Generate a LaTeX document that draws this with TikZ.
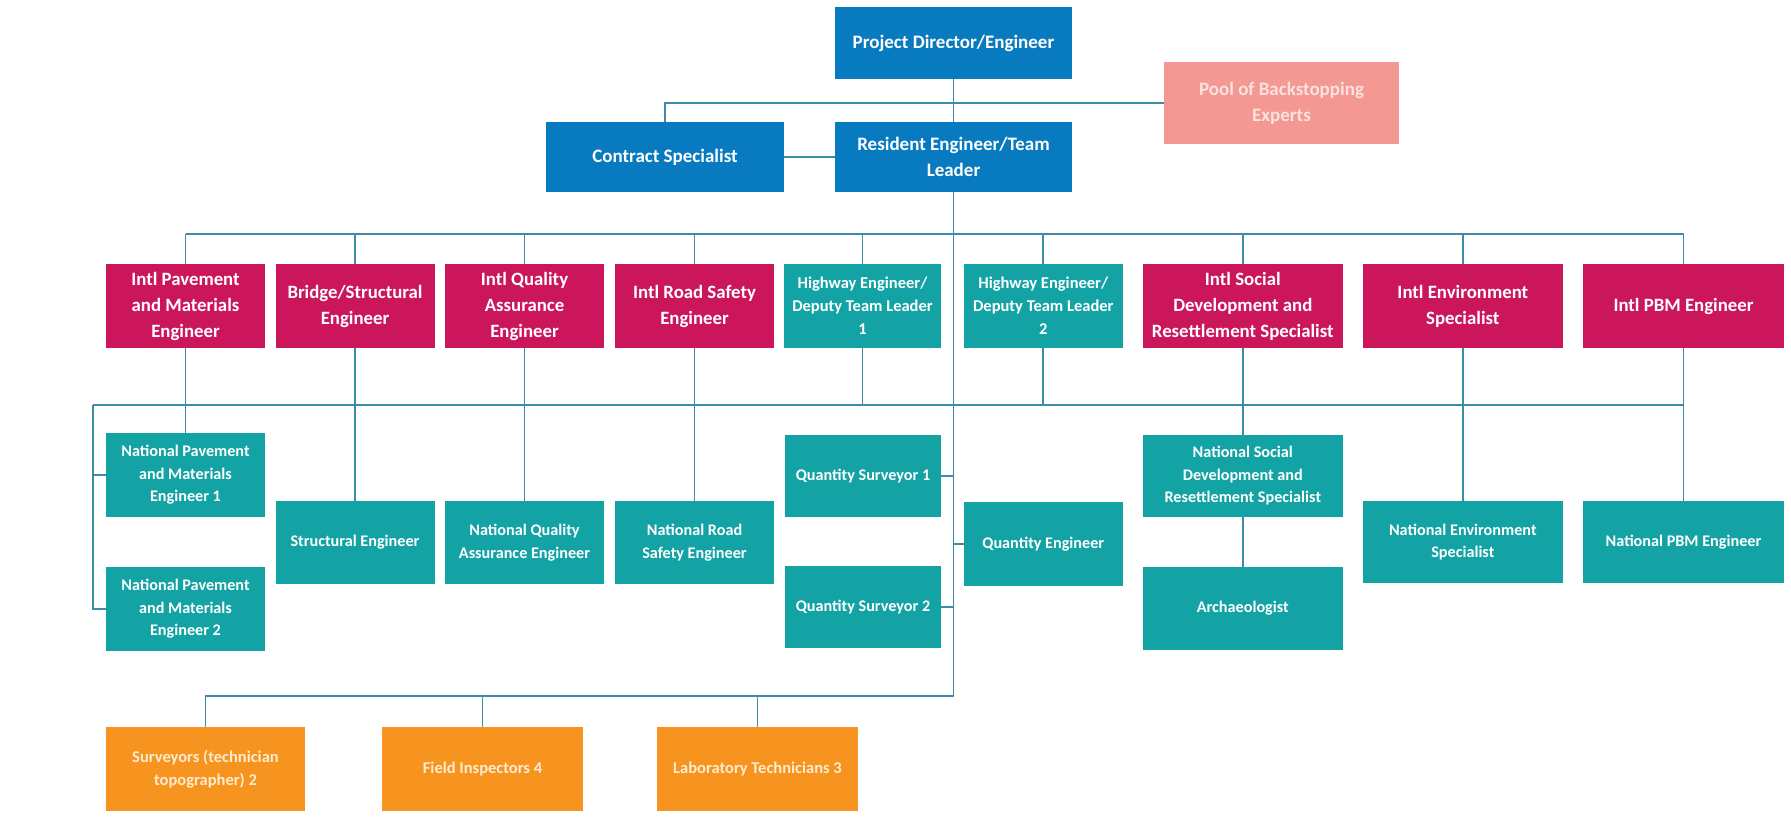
\documentclass[tikz,border=0pt]{standalone}
\usepackage{fontspec}
\setmainfont{Carlito}
\definecolor{cblue}{RGB}{8,122,192}
\definecolor{cmag}{RGB}{204,22,92}
\definecolor{cteal}{RGB}{20,163,165}
\definecolor{corange}{RGB}{247,148,32}
\definecolor{cpink}{RGB}{243,152,146}
\definecolor{cline}{RGB}{62,138,168}
\definecolor{cpinktext}{RGB}{252,226,222}
\definecolor{corangetext}{RGB}{255,236,208}
\tikzset{
  box/.style={rectangle, inner sep=1pt, align=center, text=white, font=\bfseries},
  bluebox/.style={box, fill=cblue, font=\bfseries\fontsize{19}{26}\selectfont},
  pinkbox/.style={box, fill=cpink, text=cpinktext, font=\bfseries\fontsize{19}{26}\selectfont},
  magbox/.style={box, fill=cmag, font=\bfseries\fontsize{18.8}{26}\selectfont},
  hwbox/.style={box, fill=cteal, font=\bfseries\fontsize{16.5}{23}\selectfont},
  tealbox/.style={box, fill=cteal, font=\bfseries\fontsize{16.2}{22.5}\selectfont},
  orbox/.style={box, fill=corange, text=corangetext, font=\bfseries\fontsize{16.5}{23}\selectfont},
  conn/.style={draw=cline, line width=1.8pt},
}
\begin{document}
\begin{tikzpicture}[x=1pt,y=-1pt]
\useasboundingbox (0,0) rectangle (1791,824);
% top level
\node[bluebox, minimum width=237, minimum height=72] (pd) at (953.5,43) {Project Director/Engineer};
\node[bluebox, minimum width=238, minimum height=70] (con) at (665,157) {Contract Specialist};
\node[bluebox, minimum width=237, minimum height=70] (res) at (953.5,157) {Resident Engineer/Team\\Leader};
\node[pinkbox, minimum width=235, minimum height=82] (pool) at (1281.5,103) {Pool of Backstopping\\Experts};
% row 3
\node[magbox, minimum width=159, minimum height=84] (b1) at (185.5,306) {Intl Pavement\\and Materials\\Engineer};
\node[magbox, minimum width=159, minimum height=84] (b2) at (355,306) {Bridge/Structural\\Engineer};
\node[magbox, minimum width=159, minimum height=84] (b3) at (524.5,306) {Intl Quality\\Assurance\\Engineer};
\node[magbox, minimum width=159, minimum height=84] (b4) at (694.5,306) {Intl Road Safety\\Engineer};
\node[hwbox, minimum width=157, minimum height=84] (b5) at (862.5,306) {Highway Engineer/\\Deputy Team Leader\\1};
\node[hwbox, minimum width=159, minimum height=84] (b6) at (1043.3,306) {Highway Engineer/\\Deputy Team Leader\\2};
\node[magbox, minimum width=200, minimum height=84] (b7) at (1242.8,306) {Intl Social\\Development and\\Resettlement Specialist};
\node[magbox, minimum width=200, minimum height=84] (b8) at (1462.8,306) {Intl Environment\\Specialist};
\node[magbox, minimum width=201, minimum height=84] (b9) at (1683.5,306) {Intl PBM Engineer};
% row 4
\node[tealbox, minimum width=159, minimum height=84] (np1) at (185.5,475) {National Pavement\\and Materials\\Engineer 1};
\node[tealbox, minimum width=159, minimum height=84] (np2) at (185.5,609) {National Pavement\\and Materials\\Engineer 2};
\node[tealbox, minimum width=159, minimum height=83] (st) at (355,542.5) {Structural Engineer};
\node[tealbox, minimum width=159, minimum height=83] (nqa) at (524.5,542.5) {National Quality\\Assurance Engineer};
\node[tealbox, minimum width=159, minimum height=83] (nrs) at (694.5,542.5) {National Road\\Safety Engineer};
\node[tealbox, minimum width=156, minimum height=82] (qs1) at (863,476) {Quantity Surveyor 1};
\node[tealbox, minimum width=156, minimum height=82] (qs2) at (863,607) {Quantity Surveyor 2};
\node[tealbox, minimum width=159, minimum height=84] (qe) at (1043.3,544) {Quantity Engineer};
\node[tealbox, minimum width=200, minimum height=82] (nsd) at (1242.8,476) {National Social\\Development and\\Resettlement Specialist};
\node[tealbox, minimum width=200, minimum height=83] (arch) at (1242.8,608.5) {Archaeologist};
\node[tealbox, minimum width=200, minimum height=82] (nenv) at (1462.8,542) {National Environment\\Specialist};
\node[tealbox, minimum width=201, minimum height=82] (npbm) at (1683.5,542) {National PBM Engineer};
% orange
\node[orbox, minimum width=199, minimum height=84] (surv) at (205.5,769) {Surveyors (technician\\topographer) 2};
\node[orbox, minimum width=201, minimum height=84] (field) at (482.5,769) {Field Inspectors 4};
\node[orbox, minimum width=201, minimum height=84] (lab) at (757.5,769) {Laboratory Technicians 3};
% helper coordinates
\coordinate (h2) at (953.5,234);
\coordinate (h3) at (93,405);
\coordinate (h4) at (953.5,696);
% connectors
\draw[conn] (pd.south) -- (res.north);
\draw[conn] (res.south) -- (h4);
\draw[conn] (con.north) |- (pool.west);
\draw[conn] (con.east) -- (res.west);
\draw[conn] (b1.north |- h2) -- (b9.north |- h2);
\foreach \b in {b1,b2,b3,b4,b5,b6,b7,b8,b9}{
  \draw[conn] (\b.north) -- (\b.north |- h2);
  \draw[conn] (\b.south) -- (\b.south |- h3);
}
\draw[conn] (h3) -- (b9.south |- h3);
\foreach \n in {np1,st,nqa,nrs,nsd,nenv,npbm}{
  \draw[conn] (\n.north |- h3) -- (\n.north);
}
\draw[conn] (h3) |- (np2.west);
\draw[conn] (np1.west) -- (np1.west -| h3);
\draw[conn] (qs1.east) -- (qs1.east -| h4);
\draw[conn] (qs2.east) -- (qs2.east -| h4);
\draw[conn] (qe.west) -- (qe.west -| h4);
\draw[conn] (nsd.south) -- (arch.north);
\draw[conn] (h4) -- (surv.north |- h4) -- (surv.north);
\draw[conn] (field.north |- h4) -- (field.north);
\draw[conn] (lab.north |- h4) -- (lab.north);
\end{tikzpicture}
\end{document}
